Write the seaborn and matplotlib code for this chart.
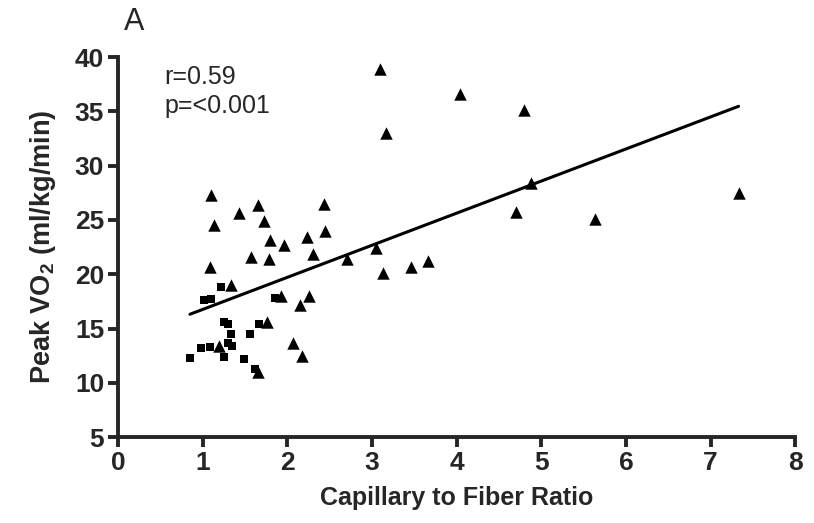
import numpy as np
import pandas as pd
import matplotlib
matplotlib.use("Agg")
import matplotlib.pyplot as plt
import seaborn as sns

# squares (group 1)
sq_x = [0.85, 0.98, 1.02, 1.09, 1.10, 1.22, 1.25, 1.25, 1.30, 1.30, 1.34, 1.35,
        1.49, 1.56, 1.62, 1.67, 1.85]
sq_y = [12.3, 13.2, 17.6, 13.3, 17.7, 18.8, 15.6, 12.4, 15.4, 13.7, 14.5, 13.4,
        12.2, 14.5, 11.3, 15.4, 17.8]

# triangles (group 2)
tri_x = [1.09, 1.10, 1.13, 1.19, 1.34, 1.43, 1.57, 1.65, 1.65, 1.73, 1.76, 1.78,
         1.80, 1.92, 1.96, 2.07, 2.15, 2.17, 2.23, 2.25, 2.30, 2.43, 2.45, 2.71,
         3.05, 3.10, 3.13, 3.17, 3.46, 3.66, 4.04, 4.70, 4.80, 4.88, 5.63, 7.33]
tri_y = [20.7, 27.3, 24.5, 13.4, 19.0, 25.6, 21.6, 26.4, 11.0, 24.9, 15.6, 21.4,
         23.2, 18.0, 22.7, 13.7, 17.2, 12.5, 23.4, 18.0, 21.9, 26.5, 24.0, 21.4,
         22.4, 38.9, 20.1, 33.0, 20.7, 21.2, 36.6, 25.7, 35.1, 28.4, 25.1, 27.5]

xticks = [0, 1, 2, 3, 4, 5, 6, 7, 8]
yticks = [5, 10, 15, 20, 25, 30, 35, 40]

df = pd.DataFrame({"x": sq_x + tri_x, "y": sq_y + tri_y})

sns.set_style("ticks")
plt.rcParams["font.family"] = ["Liberation Sans", "DejaVu Sans"]
plt.rcParams["mathtext.fontset"] = "custom"
plt.rcParams["mathtext.bf"] = "Liberation Sans:bold"
plt.rcParams["mathtext.rm"] = "Liberation Sans"

fig = plt.figure(figsize=(8.14, 5.23), dpi=100)
ax = fig.add_axes([0.145, 0.164, 0.832, 0.727])

# fit line over all points
sns.regplot(data=df, x="x", y="y", scatter=False, ci=None, truncate=True,
            color="black", line_kws={"lw": 2.2}, ax=ax)
sns.scatterplot(x=sq_x, y=sq_y, marker="s", color="black", s=32, linewidth=0,
                ax=ax, clip_on=False)
sns.scatterplot(x=tri_x, y=tri_y, marker="^", color="black", s=80, linewidth=0,
                ax=ax, clip_on=False)

ax.set_xlim(0, 8)
ax.set_ylim(5, 40)
ax.set_xticks(xticks)
ax.set_yticks(yticks)
sns.despine(ax=ax)
for sp in ["left", "bottom"]:
    ax.spines[sp].set_linewidth(2.8)
ax.tick_params(width=2.8, length=7, labelsize=19, pad=3)
for lab in ax.get_xticklabels() + ax.get_yticklabels():
    lab.set_fontweight("bold")

ax.set_xlabel("Capillary to Fiber Ratio", fontsize=18, fontweight="bold", labelpad=8)
ax.set_ylabel(r"Peak VO$_\mathbf{2}$ (ml/kg/min)", fontsize=19.5, fontweight="bold", labelpad=12)

ax.text(0.55, 38.2, "r=0.59", fontsize=18, va="center")
ax.text(0.55, 35.5, "p=<0.001", fontsize=18, va="center")
fig.text(0.152, 0.958, "A", fontsize=22, va="center")

fig.savefig("out.png", dpi=100)
